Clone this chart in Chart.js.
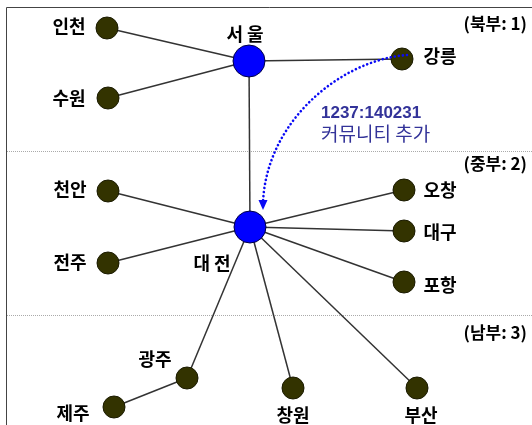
<!DOCTYPE html>
<html>
<head>
<meta charset="utf-8">
<script src="https://cdn.jsdelivr.net/npm/chart.js@4/dist/chart.umd.min.js"></script>
<style>
html,body{margin:0;padding:0;background:#fff;}
#wrap{width:532px;height:425px;position:relative;}
</style>
</head>
<body>
<div id="wrap"><canvas id="c" width="532" height="425"></canvas></div>
<script>
// ---- data ----
const nodeNames = ['서울','인천','수원','강릉','대전','천안','전주','오창','대구','포항','광주','제주','창원','부산'];
const nodeX     = [249, 107, 108, 402, 250, 108, 108, 404, 404, 404, 187, 114, 293, 417];
const nodeY     = [ 61,  28,  98,  59, 227, 191, 263, 190, 231, 282, 378, 407, 388, 388];
const nodeHub   = [true,false,false,false,true,false,false,false,false,false,false,false,false,false];
const edgeFrom  = ['서울','서울','서울','서울','대전','대전','대전','대전','대전','대전','대전','대전','광주'];
const edgeTo    = ['인천','수원','강릉','대전','천안','전주','오창','대구','포항','광주','창원','부산','제주'];
const labelText = ['서 울','인천','수원','강릉','대 전','천안','전주','오창','대구','포항','광주','제주','창원','부산'];
const labelX    = [245,  69,  69, 440, 212,  70,  70, 440, 440, 440, 155,  73, 293, 421];
const labelY    = [ 34,  26,  98,  56, 263, 189, 262, 190, 232, 285, 359, 413, 415, 415];
const regionNames = ['(북부: 1)','(중부: 2)','(남부: 3)'];
const regionLabelY = [24, 164, 333];
const regionBoundaries = [151, 315];
const annotationLines = ['1237:140231','커뮤니티 추가'];
const annotationFrom = '강릉';
const annotationTo = '대전';

// ---- build datasets ----
const idx = n => nodeNames.indexOf(n);
const datasets = [];
edgeFrom.forEach((f, i) => {
  const a = idx(f), b = idx(edgeTo[i]);
  datasets.push({
    type: 'line',
    data: [{x: nodeX[a], y: nodeY[a]}, {x: nodeX[b], y: nodeY[b]}],
    borderColor: '#333333',
    borderWidth: 1.5,
    pointRadius: 0,
    showLine: true,
    fill: false,
    clip: false,
    order: 2
  });
});
datasets.push({
  type: 'scatter',
  data: nodeNames.map((n, i) => ({x: nodeX[i], y: nodeY[i]})),
  pointRadius: nodeHub.map(h => h ? 16 : 11),
  pointHoverRadius: nodeHub.map(h => h ? 16 : 11),
  backgroundColor: nodeHub.map(h => h ? '#0000ff' : '#333300'),
  borderColor: nodeHub.map(h => h ? '#000044' : '#1a1a00'),
  borderWidth: 1,
  clip: false,
  order: 0
});

const decor = {
  id: 'decor',
  beforeDatasetsDraw(chart) {
    const {ctx, scales: {x, y}} = chart;
    ctx.save();
    // frame
    ctx.strokeStyle = '#444';
    ctx.lineWidth = 1;
    ctx.beginPath();
    ctx.moveTo(6.5, 425);
    ctx.lineTo(6.5, 7.5);
    ctx.lineTo(532, 7.5);
    ctx.stroke();
    // region dividers
    ctx.strokeStyle = '#aaaaaa';
    ctx.setLineDash([1, 1]);
    regionBoundaries.forEach(v => {
      const py = Math.round(y.getPixelForValue(v)) + 0.5;
      ctx.beginPath();
      ctx.moveTo(7, py);
      ctx.lineTo(532, py);
      ctx.stroke();
    });
    ctx.restore();
  },
  afterDatasetsDraw(chart) {
    const {ctx, scales: {x, y}} = chart;
    ctx.save();
    // dotted annotation arrow
    const a = idx(annotationFrom), b = idx(annotationTo);
    const x0 = x.getPixelForValue(nodeX[a]) + 5, y0 = y.getPixelForValue(nodeY[a]) - 4;
    const x3 = x.getPixelForValue(nodeX[b]) + 13, y3 = y.getPixelForValue(nodeY[b]) - 24;
    ctx.strokeStyle = '#0a0af5';
    ctx.fillStyle = '#0a0af5';
    ctx.lineWidth = 2.6;
    ctx.lineCap = 'round';
    ctx.setLineDash([0.1, 4]);
    ctx.beginPath();
    ctx.moveTo(x0, y0);
    ctx.bezierCurveTo(x.getPixelForValue(340), y.getPixelForValue(60), x.getPixelForValue(266), y.getPixelForValue(122), x3, y3);
    ctx.stroke();
    ctx.setLineDash([]);
    ctx.beginPath();
    ctx.moveTo(x3 - 4.5, y3 - 3);
    ctx.lineTo(x3 + 4.5, y3 - 3);
    ctx.lineTo(x3, y3 + 7);
    ctx.closePath();
    ctx.fill();

    // node labels
    ctx.fillStyle = '#000';
    ctx.textBaseline = 'middle';
    ctx.textAlign = 'center';
    ctx.font = 'bold 18px "Noto Sans CJK KR"';
    labelText.forEach((t, i) => {
      ctx.fillText(t, x.getPixelForValue(labelX[i]), y.getPixelForValue(labelY[i]));
    });
    // region labels
    ctx.font = 'bold 17px "Noto Sans CJK KR"';
    ctx.textAlign = 'right';
    regionNames.forEach((t, i) => {
      ctx.fillText(t, x.getPixelForValue(527), y.getPixelForValue(regionLabelY[i]));
    });
    // annotation text
    ctx.fillStyle = '#333399';
    ctx.textAlign = 'left';
    ctx.font = 'bold 17px "Liberation Sans"';
    ctx.fillText(annotationLines[0], x.getPixelForValue(321), y.getPixelForValue(113));
    ctx.font = '19px "Noto Sans CJK KR"';
    ctx.fillText(annotationLines[1], x.getPixelForValue(321), y.getPixelForValue(134));
    ctx.restore();
  }
};

new Chart(document.getElementById('c'), {
  type: 'scatter',
  data: { datasets },
  options: {
    responsive: false,
    animation: false,
    layout: { padding: 0, autoPadding: false },
    plugins: { legend: { display: false }, tooltip: { enabled: false } },
    scales: {
      x: { type: 'linear', min: 0, max: 532, display: false },
      y: { type: 'linear', min: 0, max: 425, reverse: true, display: false }
    }
  },
  plugins: [decor]
});
</script>
</body>
</html>
